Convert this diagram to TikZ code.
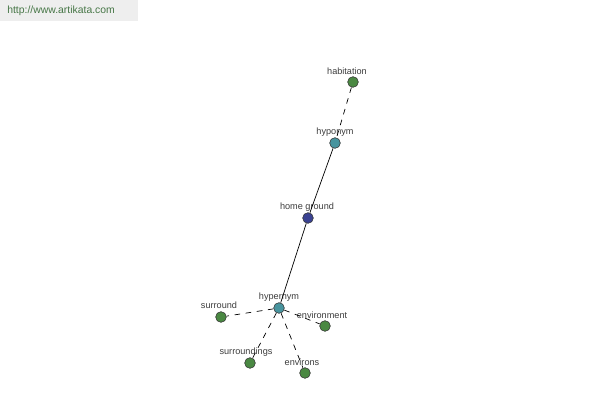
\documentclass[tikz,border=0pt]{standalone}
\usepackage{fontspec}
\setmainfont{Liberation Sans}
\usepackage{tikz}
\usetikzlibrary{calc}
\definecolor{leafgreen}{RGB}{74,136,66}
\definecolor{relteal}{RGB}{72,148,158}
\definecolor{wordblue}{RGB}{58,66,146}
\definecolor{bannergray}{RGB}{238,238,238}
\definecolor{bannertext}{RGB}{70,118,70}
\definecolor{labelgray}{RGB}{60,60,60}
\tikzset{
  dot/.style={circle, draw=black!80, line width=0.4pt, inner sep=0pt, minimum size=7.6pt},
  wlabel/.style={font=\fontsize{6.5}{7}\selectfont, text=labelgray, inner sep=0pt},
  leaf/.style={dot, fill=leafgreen},
  rel/.style={dot, fill=relteal},
  word/.style={dot, fill=wordblue},
  hyperlink/.style={line width=0.5pt, dash pattern=on 4pt off 4pt},
}

\begin{document}
\begin{tikzpicture}[x=0.025cm,y=-0.025cm]
\useasboundingbox (0,0) rectangle (600,400);
\fill[white] (0,0) rectangle (600,400);
% banner
\fill[bannergray] (0,0) rectangle (138,21);
\node[anchor=west, inner sep=0pt, text=bannertext, font=\fontsize{7.4}{8}\selectfont] (url) at (7,11) {http://www.artikata.com};
% nodes
\node[leaf] (habitation) at (353,82) {}; \node[wlabel] at (347,71) {habitation};
\node[rel] (hyponym) at (335,143) {}; \node[wlabel] at (335,132) {hyponym};
\node[word] (home) at (308,218) {}; \node[wlabel] at (307,207) {home ground};
\node[rel] (hypernym) at (279,308) {}; \node[wlabel] at (279,297) {hypernym};
\node[leaf] (surround) at (221,317) {}; \node[wlabel] at (219,305) {surround};
\node[leaf] (environment) at (325,326) {}; \node[wlabel] at (322,315) {environment};
\node[leaf] (surroundings) at (250,363) {}; \node[wlabel] at (246,352) {surroundings};
\node[leaf] (environs) at (305,373) {}; \node[wlabel] at (302,362) {environs};
% edges
\draw[line width=0.5pt] (hyponym)--(home);
\draw[line width=0.5pt] (home)--(hypernym);
\draw[hyperlink] (habitation)--(hyponym);
\draw[hyperlink] (hypernym)--(surround);
\draw[hyperlink] (hypernym)--(environment);
\draw[hyperlink] (hypernym)--(surroundings);
\draw[hyperlink] (hypernym)--(environs);
\end{tikzpicture}
\end{document}
